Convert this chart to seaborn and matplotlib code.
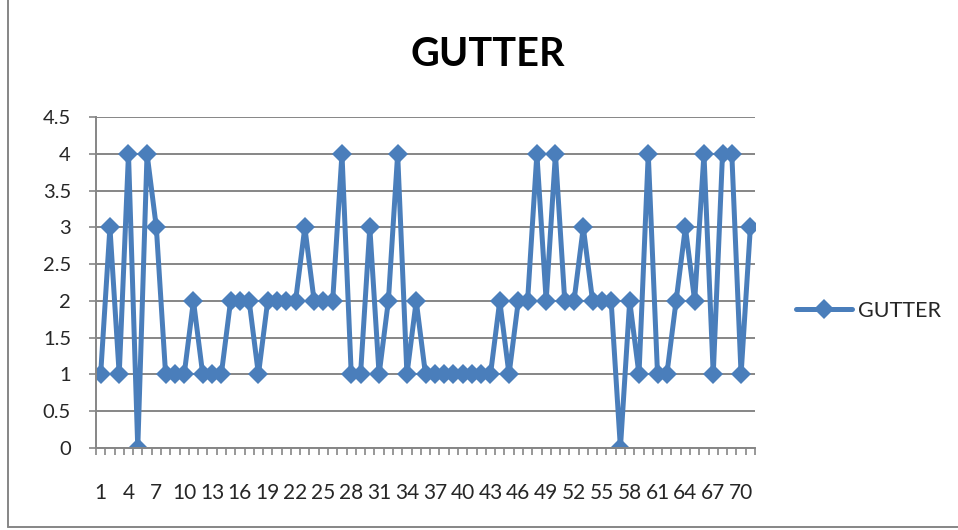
import matplotlib
matplotlib.use("Agg")
import matplotlib.pyplot as plt
import seaborn as sns
import pandas as pd
from matplotlib.lines import Line2D
from matplotlib.ticker import MultipleLocator, FixedLocator

# ---- data ----
categories = list(range(1, 72))
gutter_values = [1, 3, 1, 4, 0, 4, 3, 1, 1, 1,
                 2, 1, 1, 1, 2, 2, 2, 1, 2, 2,
                 2, 2, 3, 2, 2, 2, 4, 1, 1, 3,
                 1, 2, 4, 1, 2, 1, 1, 1, 1, 1,
                 1, 1, 1, 2, 1, 2, 2, 4, 2, 4,
                 2, 2, 3, 2, 2, 2, 0, 2, 1, 4,
                 1, 1, 2, 3, 2, 4, 1, 4, 4, 1,
                 3]
x_tick_labels = [str(v) for v in range(1, 72, 3)]
series_name = "GUTTER"
chart_title = "GUTTER"

df = pd.DataFrame({"category": categories, "value": gutter_values})

sns.set_style("white")
plt.rcParams["font.family"] = ["Lato", "DejaVu Sans"]

W, H = 958, 530
fig = plt.figure(figsize=(W / 100, H / 100), dpi=100)
ax = fig.add_axes([96 / W, 1 - 448 / H, (755 - 96) / W, (448 - 117) / H])

line_color = "#4A7EBB"
grid_color = "#868686"

sns.lineplot(data=df, x="category", y="value", ax=ax, color=line_color,
             linewidth=3.6, marker="D", markersize=10, markeredgewidth=0,
             legend=False)

ax.set_xlim(0.5, 71.5)
ax.set_ylim(0, 4.5)
ax.set_xlabel("")
ax.set_ylabel("")

# y axis
ax.yaxis.set_major_locator(MultipleLocator(0.5))
ax.set_yticklabels([("%g" % v) for v in ax.get_yticks()])
ax.yaxis.grid(True, color=grid_color, linewidth=1.4)
ax.set_axisbelow(True)
ax.tick_params(axis="y", which="major", direction="out", length=5, width=1.2,
               color=grid_color, pad=13, labelsize=14.5, left=True)

# x axis
ax.xaxis.set_major_locator(FixedLocator([int(s) for s in x_tick_labels]))
ax.set_xticklabels(x_tick_labels)
ax.xaxis.set_minor_locator(FixedLocator([i + 0.5 for i in range(0, 72)]))
ax.tick_params(axis="x", which="major", length=0, pad=25, labelsize=15)
ax.tick_params(axis="x", which="minor", direction="out", length=5, width=1.2,
               color=grid_color, bottom=True)
ax.xaxis.grid(False)

for side in ["top", "right"]:
    ax.spines[side].set_visible(False)
for side in ["left", "bottom"]:
    ax.spines[side].set_color(grid_color)
    ax.spines[side].set_linewidth(1.4)

# title
fig.text(488 / W, 1 - 55 / H, chart_title, ha="center", va="center",
         fontsize=28.5, fontweight="bold", color="black")

# legend
handle = Line2D([], [], color=line_color, linewidth=3.6, marker="D",
                markersize=10, markeredgewidth=0)
fig.legend([handle], [series_name], loc="center left",
           bbox_to_anchor=(785 / W, 1 - 311 / H), frameon=False,
           fontsize=15.5, handlelength=2.6, handletextpad=0.3, borderpad=0)

# chart area border
fig.add_artist(Line2D([8 / W, 8 / W], [1 - 527 / H, 1], transform=fig.transFigure,
                      color=grid_color, linewidth=1.4))
fig.add_artist(Line2D([8 / W, 1], [1 - 527 / H, 1 - 527 / H], transform=fig.transFigure,
                      color=grid_color, linewidth=1.4))

fig.savefig("out.png", dpi=100)
